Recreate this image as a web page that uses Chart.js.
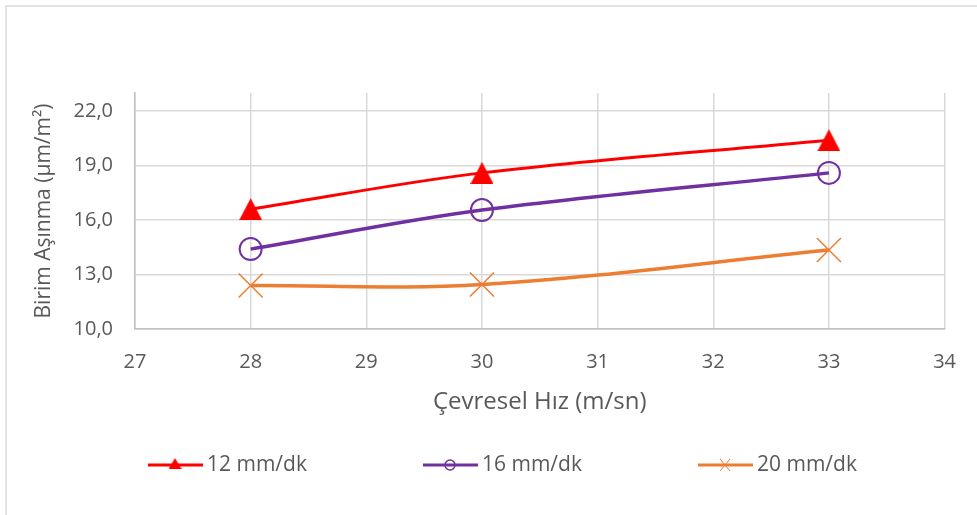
<!DOCTYPE html>
<html>
<head>
<meta charset="utf-8">
<script src="https://cdn.jsdelivr.net/npm/chart.js@4/dist/chart.umd.min.js"></script>
<style>
  body { margin: 0; background: #fff; }
  canvas { display: block; }
</style>
</head>
<body>
<canvas id="wearChart" width="977" height="515"></canvas>
<script>
// peripheral speed (m/sn) and unit wear values for each feed rate
const speeds = [28, 30, 33];
const wear12 = [16.6, 18.6, 20.4];
const wear16 = [14.4, 16.55, 18.6];
const wear20 = [12.4, 12.45, 14.35];
const seriesNames = ["12 mm/dk", "16 mm/dk", "20 mm/dk"];
const yTicks = [10, 13, 16, 19, 22];

const textColor = "#595959";
const gridColor = "#d9d9d9";
const fontFamily = "'Open Sans', 'Liberation Sans', sans-serif";

// filled triangle centred on its bounding box
const makeTriangle = (w, h, color) => {
  const c = document.createElement("canvas");
  c.width = w;
  c.height = h;
  const g = c.getContext("2d");
  g.fillStyle = color;
  g.beginPath();
  g.moveTo(0, h);
  g.lineTo(w / 2, 0);
  g.lineTo(w, h);
  g.closePath();
  g.fill();
  return c;
};

const bigTriangle = makeTriangle(23, 22, "#ff0000");
const smallTriangle = makeTriangle(13, 11, "#ff0000");

const toPoints = (values) => values.map((v, i) => ({ x: speeds[i], y: v }));

// outer frame
const framePlugin = {
  id: "frame",
  beforeDraw(chart) {
    const ctx = chart.ctx;
    ctx.save();
    ctx.fillStyle = "#fff";
    ctx.fillRect(0, 0, chart.width, chart.height);
    ctx.strokeStyle = gridColor;
    ctx.lineWidth = 1.5;
    ctx.beginPath();
    ctx.moveTo(6, chart.height);
    ctx.lineTo(6, 6);
    ctx.lineTo(chart.width, 6);
    ctx.stroke();
    ctx.restore();
  },
};

// legend row with line + marker samples
const legendPlugin = {
  id: "lineLegend",
  afterDraw(chart) {
    const ctx = chart.ctx;
    const y = 465;
    ctx.save();
    ctx.font = "21px " + fontFamily;
    ctx.textBaseline = "middle";
    chart.data.datasets.forEach((ds, i) => {
      const x = 148 + i * 275;
      const mid = x + 27;
      ctx.strokeStyle = ds.borderColor;
      ctx.lineWidth = 3;
      ctx.beginPath();
      ctx.moveTo(x, y);
      ctx.lineTo(x + 55, y);
      ctx.stroke();

      if (i === 0) {
        ctx.drawImage(smallTriangle, mid - 6.5, y - 7);
      } else if (i === 1) {
        ctx.lineWidth = 1.5;
        ctx.beginPath();
        ctx.arc(mid, y, 5, 0, Math.PI * 2);
        ctx.stroke();
      } else {
        ctx.lineWidth = 1;
        ctx.beginPath();
        ctx.moveTo(mid - 5, y - 6);
        ctx.lineTo(mid + 5, y + 6);
        ctx.moveTo(mid + 5, y - 6);
        ctx.lineTo(mid - 5, y + 6);
        ctx.stroke();
      }

      ctx.fillStyle = textColor;
      ctx.fillText(ds.label, x + 59, y);
    });
    ctx.restore();
  },
};

new Chart(document.getElementById("wearChart").getContext("2d"), {
  type: "line",
  data: {
    datasets: [
      {
        label: seriesNames[0],
        data: toPoints(wear12),
        borderColor: "#ff0000",
        backgroundColor: "#ff0000",
        borderWidth: 3,
        pointStyle: bigTriangle,
        tension: 0.35,
      },
      {
        label: seriesNames[1],
        data: toPoints(wear16),
        borderColor: "#7030a0",
        backgroundColor: "rgba(0,0,0,0)",
        borderWidth: 3.5,
        pointStyle: "circle",
        pointRadius: 11,
        pointBorderWidth: 2,
        tension: 0.35,
      },
      {
        label: seriesNames[2],
        data: toPoints(wear20),
        borderColor: "#ed7d31",
        backgroundColor: "#ed7d31",
        borderWidth: 3.5,
        pointStyle: "crossRot",
        pointRadius: 17,
        pointBorderWidth: 1.5,
        tension: 0.35,
      },
    ],
  },
  options: {
    responsive: false,
    animation: false,
    events: [],
    layout: {
      padding: { left: 0, top: 93, right: 31, bottom: 95 },
    },
    scales: {
      x: {
        type: "linear",
        min: 27,
        max: 34,
        ticks: {
          stepSize: 1,
          color: textColor,
          padding: 21,
          font: { family: fontFamily, size: 20 },
        },
        grid: { color: gridColor, lineWidth: 1.5, drawTicks: false },
        border: { color: "#bfbfbf", width: 1.5 },
        title: {
          display: true,
          text: "Çevresel Hız (m/sn)",
          color: textColor,
          padding: { bottom: 3, top: 0 },
          font: { family: fontFamily, size: 24 },
        },
        afterFit(scale) {
          scale.height = 91;
        },
      },
      y: {
        min: 10,
        max: 23,
        afterBuildTicks(scale) {
          scale.ticks = yTicks.map((v) => ({ value: v }));
        },
        ticks: {
          color: textColor,
          padding: 22,
          font: { family: fontFamily, size: 20 },
          callback: (v) => v.toFixed(1).replace(".", ","),
        },
        grid: { color: gridColor, lineWidth: 1.5, drawTicks: false },
        border: { color: "#bfbfbf", width: 1.5 },
        title: {
          display: true,
          text: "Birim Aşınma (µm/m²)",
          color: textColor,
          padding: { top: 31, bottom: 0 },
          font: { family: fontFamily, size: 21 },
        },
        afterFit(scale) {
          scale.width = 135;
        },
      },
    },
    plugins: {
      legend: { display: false },
      tooltip: { enabled: false },
    },
  },
  plugins: [framePlugin, legendPlugin],
});
</script>
</body>
</html>
